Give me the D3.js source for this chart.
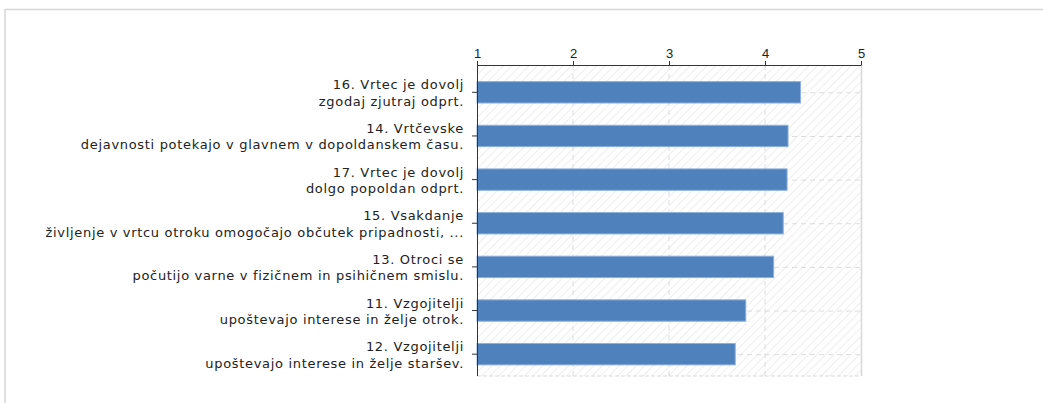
<!DOCTYPE html>
<html>
<head>
<meta charset="utf-8">
<script src="https://cdn.jsdelivr.net/npm/d3@7"></script>
<style>
  body { margin: 0; background: #fff; }
  svg { display: block; font-family: "DejaVu Sans", Verdana, sans-serif; }
  .axis path, .axis line { stroke: #333; }
  .axis text { font-size: 13px; fill: #222; }
  .label { font-size: 13px; fill: #222; letter-spacing: 0.68px; }
</style>
</head>
<body>
<script>
'use strict';

// chart data
const labelTop = [
  "16. Vrtec je dovolj",
  "14. Vrtčevske",
  "17. Vrtec je dovolj",
  "15. Vsakdanje",
  "13. Otroci se",
  "11. Vzgojitelji",
  "12. Vzgojitelji"
];
const labelBottom = [
  "zgodaj zjutraj odprt.",
  "dejavnosti potekajo v glavnem v dopoldanskem času.",
  "dolgo popoldan odprt.",
  "življenje v vrtcu otroku omogočajo občutek pripadnosti, ...",
  "počutijo varne v fizičnem in psihičnem smislu.",
  "upoštevajo interese in želje otrok.",
  "upoštevajo interese in želje staršev."
];
const values = [4.37, 4.24, 4.23, 4.19, 4.09, 3.80, 3.69];
const xTicks = [1, 2, 3, 4, 5];

(function() {
  const width = 1043, height = 403;
  const plotLeft = 477, plotRight = 861, plotTop = 65, plotBottom = 376;

  const svg = d3.select('body').append('svg')
    .attr('width', width)
    .attr('height', height);

  // outer frame
  svg.append('rect')
    .attr('x', 5).attr('y', 9.5)
    .attr('width', width + 10).attr('height', height + 10)
    .attr('fill', 'none')
    .attr('stroke', '#d6d6d6')
    .attr('stroke-width', 1.5);

  // hatch background
  const defs = svg.append('defs');
  defs.append('pattern')
    .attr('id', 'hatch')
    .attr('patternUnits', 'userSpaceOnUse')
    .attr('width', 6).attr('height', 6)
    .attr('patternTransform', 'rotate(45)')
    .append('line')
      .attr('x1', 0).attr('y1', 0).attr('x2', 0).attr('y2', 6)
      .attr('stroke', '#e8e8e8')
      .attr('stroke-width', 1.5);

  const idx = d3.range(values.length);

  const x = d3.scaleLinear().domain([1, 5]).range([plotLeft, plotRight]);
  const y = d3.scaleBand().domain(idx).range([70.5, plotBottom])
    .paddingInner(0.51).paddingOuter(0.255);

  svg.append('rect')
    .attr('x', plotLeft).attr('y', plotTop)
    .attr('width', plotRight - plotLeft).attr('height', plotBottom - plotTop)
    .attr('fill', 'url(#hatch)');

  // grid
  svg.append('g').selectAll('line')
    .data(xTicks.slice(1, -1))
    .enter().append('line')
      .attr('x1', (d) => x(d)).attr('x2', (d) => x(d))
      .attr('y1', plotTop).attr('y2', plotBottom)
      .attr('stroke', '#dcdcdc')
      .attr('stroke-dasharray', '5,4');

  svg.append('g').selectAll('line')
    .data(idx)
    .enter().append('line')
      .attr('x1', plotLeft).attr('x2', plotRight)
      .attr('y1', (d) => y(d) + y.bandwidth() / 2 + 0.5)
      .attr('y2', (d) => y(d) + y.bandwidth() / 2 + 0.5)
      .attr('stroke', '#dcdcdc')
      .attr('stroke-dasharray', '5,4');

  // plot borders right and bottom
  svg.append('line')
    .attr('x1', plotRight + 0.5).attr('x2', plotRight + 0.5)
    .attr('y1', plotTop).attr('y2', plotBottom)
    .attr('stroke', '#d8d8d8').attr('stroke-width', 1.5);
  svg.append('line')
    .attr('x1', plotLeft).attr('x2', plotRight)
    .attr('y1', plotBottom).attr('y2', plotBottom)
    .attr('stroke', '#d8d8d8')
    .attr('stroke-dasharray', '4,2');

  // bars
  svg.append('g').selectAll('rect')
    .data(values)
    .enter().append('rect')
      .attr('x', x(1))
      .attr('y', (d, i) => y(i))
      .attr('width', (d) => x(d) - x(1))
      .attr('height', y.bandwidth())
      .attr('fill', '#4f81bd')
      .attr('stroke', '#8fb0dc')
      .attr('stroke-width', 1);

  // top axis
  svg.append('g')
    .attr('class', 'axis')
    .attr('transform', 'translate(0,' + plotTop + ')')
    .call(d3.axisTop(x).tickValues(xTicks).tickFormat(d3.format('d')).tickSize(4).tickSizeOuter(0))
    .call((g) => g.selectAll('text').attr('y', -7).attr('dy', 0));

  // left axis
  svg.append('g')
    .attr('class', 'axis')
    .attr('transform', 'translate(' + plotLeft + ',0)')
    .call(d3.axisLeft(y).tickSize(5).tickSizeOuter(0).tickFormat(''))
    .call((g) => g.select('.domain').attr('d', 'M0.5,' + plotTop + 'V' + plotBottom));

  // category labels
  const labels = svg.append('g').selectAll('text')
    .data(idx)
    .enter().append('text')
      .attr('class', 'label')
      .attr('text-anchor', 'end')
      .attr('x', 464)
      .attr('y', (d) => y(d) + y.bandwidth() / 2);

  labels.append('tspan')
    .attr('x', 464)
    .attr('dy', -3)
    .text((d) => labelTop[d]);
  labels.append('tspan')
    .attr('x', 464)
    .attr('dy', 16.5)
    .text((d) => labelBottom[d]);
})();
</script>
</body>
</html>
